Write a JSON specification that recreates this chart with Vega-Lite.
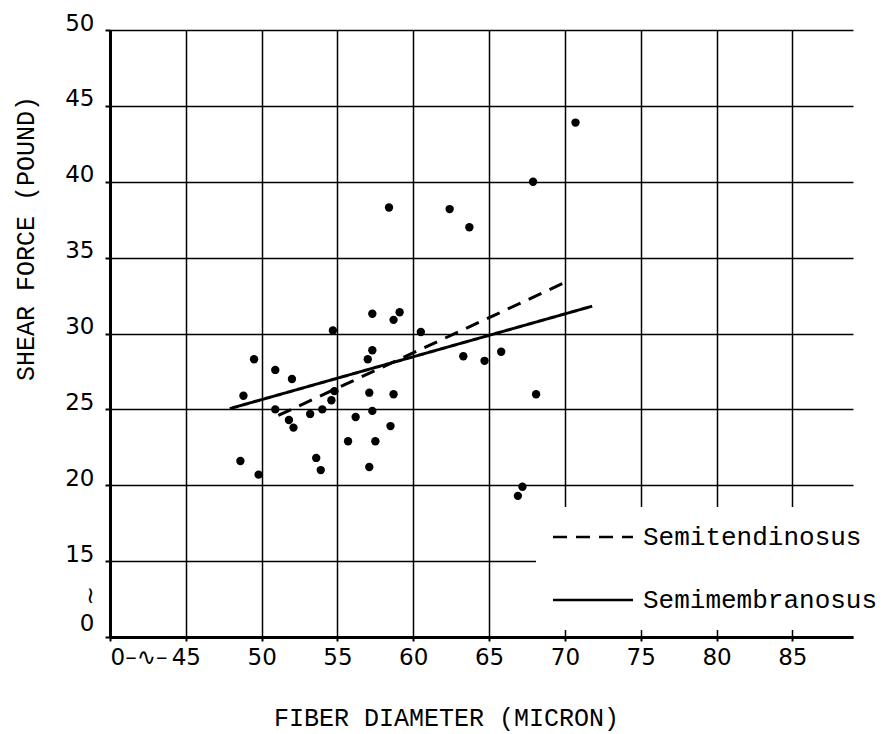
{
  "$schema": "https://vega.github.io/schema/vega-lite/v6.json",
  "width": 743,
  "height": 607,
  "autosize": {"type": "none"},
  "padding": {"left": 110, "top": 30, "right": 34, "bottom": 97},
  "background": "white",
  "config": {
    "view": {"stroke": null},
    "axis": {
      "domainColor": "black",
      "domainWidth": 3,
      "gridColor": "black",
      "gridWidth": 1.5,
      "gridOpacity": 1,
      "tickColor": "black",
      "tickWidth": 2,
      "labelColor": "black",
      "labelFont": "DejaVu Sans",
      "labelFontSize": 23,
      "titleColor": "black",
      "titleFont": "Liberation Mono",
      "titleFontSize": 25,
      "titleFontWeight": "normal",
      "labelOverlap": false
    }
  },
  "datasets": {
    "points": [
      {"x": 70.7, "y": 43.9}, {"x": 67.9, "y": 40.0}, {"x": 58.4, "y": 38.3},
      {"x": 62.4, "y": 38.2}, {"x": 63.7, "y": 37.0}, {"x": 57.3, "y": 31.3},
      {"x": 59.1, "y": 31.4}, {"x": 58.7, "y": 30.9}, {"x": 54.7, "y": 30.2},
      {"x": 60.5, "y": 30.1}, {"x": 57.3, "y": 28.9}, {"x": 57.0, "y": 28.3},
      {"x": 63.3, "y": 28.5}, {"x": 64.7, "y": 28.2}, {"x": 65.8, "y": 28.8},
      {"x": 49.5, "y": 28.3}, {"x": 50.9, "y": 27.6}, {"x": 52.0, "y": 27.0},
      {"x": 48.8, "y": 25.9}, {"x": 57.1, "y": 26.1}, {"x": 58.7, "y": 26.0},
      {"x": 68.1, "y": 26.0}, {"x": 54.8, "y": 26.2}, {"x": 54.6, "y": 25.6},
      {"x": 50.9, "y": 25.0}, {"x": 51.8, "y": 24.3}, {"x": 52.1, "y": 23.8},
      {"x": 53.2, "y": 24.7}, {"x": 54.0, "y": 25.0}, {"x": 57.3, "y": 24.9},
      {"x": 56.2, "y": 24.5}, {"x": 58.5, "y": 23.9}, {"x": 55.7, "y": 22.9},
      {"x": 57.5, "y": 22.9}, {"x": 48.6, "y": 21.6}, {"x": 49.8, "y": 20.7},
      {"x": 53.6, "y": 21.8}, {"x": 53.9, "y": 21.0}, {"x": 57.1, "y": 21.2},
      {"x": 67.2, "y": 19.9}, {"x": 66.9, "y": 19.3}
    ],
    "lines": [
      {"muscle": "Semitendinosus", "x": 51.1, "y": 24.6},
      {"muscle": "Semitendinosus", "x": 70.3, "y": 33.5},
      {"muscle": "Semimembranosus", "x": 47.9, "y": 25.05},
      {"muscle": "Semimembranosus", "x": 71.8, "y": 31.8}
    ]
  },
  "encoding": {
    "x": {
      "field": "x",
      "type": "quantitative",
      "scale": {"domain": [40, 89], "nice": false, "zero": false},
      "axis": {
        "values": [40, 45, 50, 55, 60, 65, 70, 75, 80, 85],
        "title": "FIBER DIAMETER (MICRON)",
        "titleX": 336,
        "titleY": 88,
        "titleAnchor": "start",
        "titleAlign": "center",
        "titleBaseline": "alphabetic",
        "tickSize": 4,
        "labelPadding": 5,
        "labelFlush": false,
        "labelExpr": "datum.value == 40 ? '0–∿–' : datum.label",
        "labelAlign": {"condition": {"test": "datum.value == 40", "value": "left"}, "value": "center"}
      }
    },
    "y": {
      "field": "y",
      "type": "quantitative",
      "scale": {"domain": [10, 50], "nice": false, "zero": false},
      "axis": {
        "values": [10, 15, 20, 25, 30, 35, 40, 45, 50],
        "title": "SHEAR FORCE (POUND)",
        "titleX": -77,
        "titleY": 208,
        "titleAngle": 270,
        "titleAlign": "center",
        "titleBaseline": "alphabetic",
        "tickSize": 5,
        "labelPadding": 11,
        "labelLineHeight": 28,
        "labelExpr": "datum.value == 10 ? ['≀', '0'] : datum.label",
        "labelBaseline": "alphabetic",
        "labelOffset": {"condition": {"test": "datum.value == 10", "value": -35}, "value": 0}
      }
    }
  },
  "layer": [
    {
      "data": {"name": "points"},
      "mark": {"type": "point", "shape": "circle", "filled": true, "size": 70, "color": "black", "opacity": 1}
    },
    {
      "data": {"name": "lines"},
      "mark": {"type": "line", "color": "black", "strokeWidth": 3},
      "encoding": {
        "strokeDash": {
          "field": "muscle",
          "type": "nominal",
          "scale": {"domain": ["Semitendinosus", "Semimembranosus"], "range": [[14, 9], [1, 0]]},
          "legend": {
            "orient": "none",
            "legendX": 426,
            "legendY": 477,
            "title": null,
            "fillColor": "white",
            "padding": 17,
            "symbolType": "M0,0H8",
            "symbolSize": 400,
            "symbolStrokeWidth": 2.5,
            "symbolStrokeColor": "black",
            "symbolOffset": -13,
            "labelOffset": 77,
            "labelFont": "Liberation Mono",
            "labelFontSize": 26,
            "labelColor": "black",
            "labelLimit": 400,
            "rowPadding": 37
          }
        }
      }
    }
  ]
}
